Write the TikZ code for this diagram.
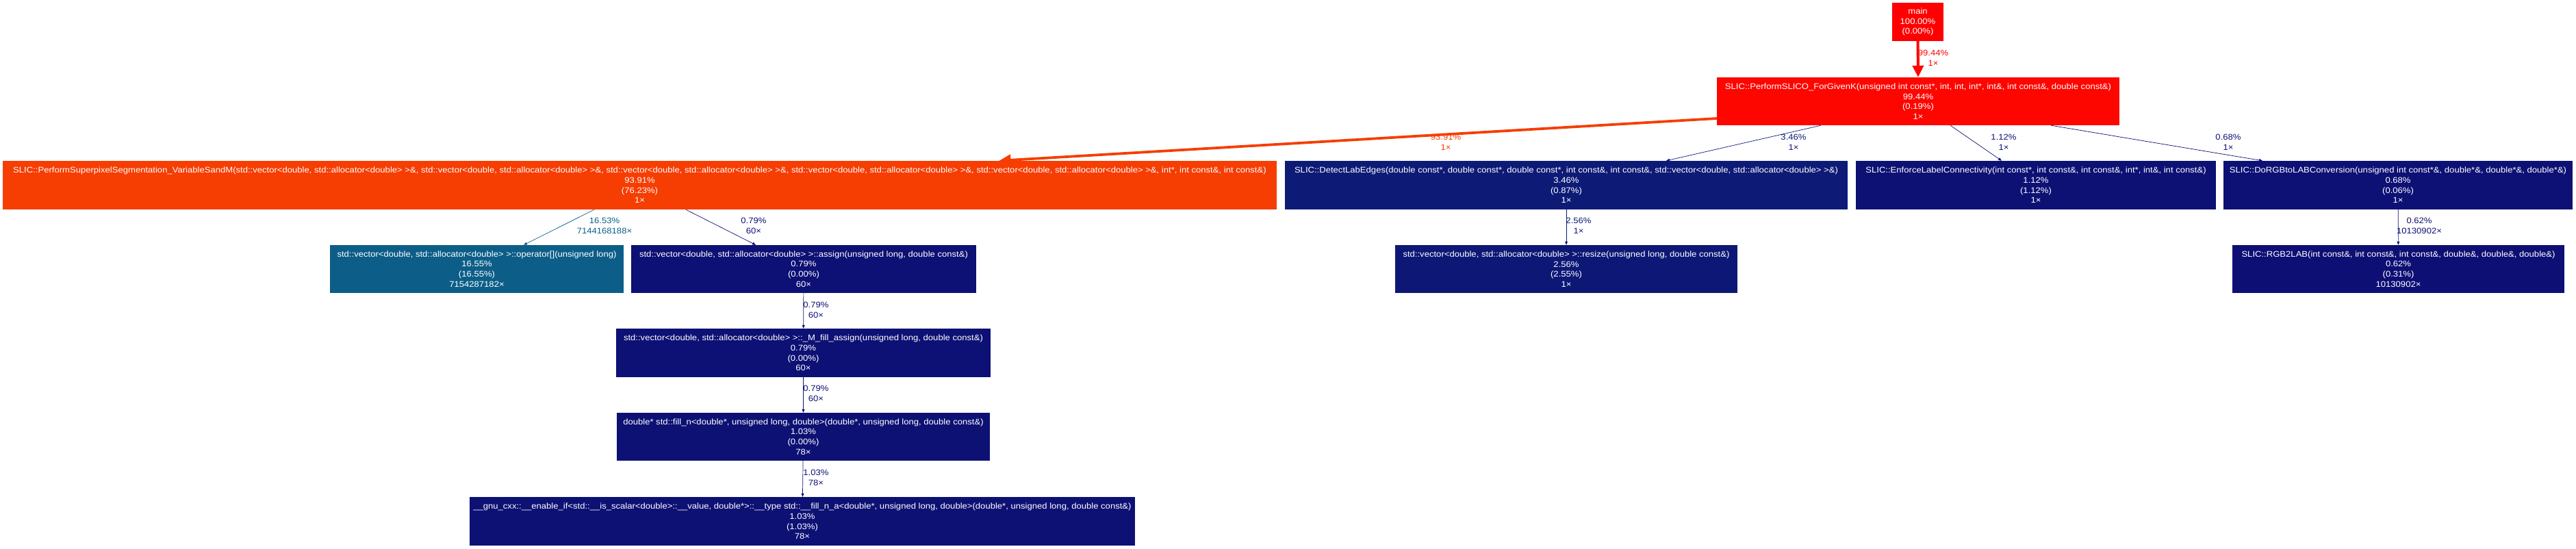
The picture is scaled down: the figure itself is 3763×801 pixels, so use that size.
\documentclass[tikz,border=0pt]{standalone}
\usepackage{fontspec}
\setmainfont[FakeStretch=1.09]{Liberation Sans}
\usetikzlibrary{arrows.meta}
\definecolor{w100}{RGB}{255,0,0}
\definecolor{w994}{RGB}{254,6,0}
\definecolor{w939}{RGB}{246,61,2}
\definecolor{w165}{RGB}{12,94,136}
\definecolor{w035}{RGB}{13,27,119}
\definecolor{w026}{RGB}{13,24,118}
\definecolor{w011}{RGB}{13,17,116}
\definecolor{w007}{RGB}{13,16,116}
\definecolor{w006}{RGB}{13,15,116}

\begin{document}
\begin{tikzpicture}[x=1pt,y=-1pt,font=\fontsize{12}{14.7}\selectfont,
  fn/.style={fill=#1,text=white,inner sep=0pt,align=center,minimum height=70pt},
  call/.style={draw=#1,line width=.7pt,-{Triangle[length=5pt,width=4pt]}},
  hotcall/.style={draw=#1,line width=4pt,-{Triangle[length=17pt,width=16pt]}},
  pct/.style={text=#1,align=center,inner sep=0pt}]
\useasboundingbox (0,0) rectangle (3763,801);
\node[fn=w100,minimum width=75pt,minimum height=56pt] (main) at (2801.5,32) {main\\100.00\%\\(0.00\%)};
\node[fn=w994,minimum width=588pt] (slico) at (2802,148) {SLIC::PerformSLICO\_ForGivenK(unsigned int const*, int, int, int*, int\&, int const\&, double const\&)\\99.44\%\\(0.19\%)\\1×};
\node[fn=w939,minimum width=1861pt,minimum height=71pt] (superpix) at (934.5,270.5) {SLIC::PerformSuperpixelSegmentation\_VariableSandM(std::vector<double, std::allocator<double> >\&, std::vector<double, std::allocator<double> >\&, std::vector<double, std::allocator<double> >\&, std::vector<double, std::allocator<double> >\&, std::vector<double, std::allocator<double> >\&, int*, int const\&, int const\&)\\93.91\%\\(76.23\%)\\1×};
\node[fn=w035,minimum width=822pt,minimum height=71pt] (detect) at (2288,270.5) {SLIC::DetectLabEdges(double const*, double const*, double const*, int const\&, int const\&, std::vector<double, std::allocator<double> >\&)\\3.46\%\\(0.87\%)\\1×};
\node[fn=w011,minimum width=526pt,minimum height=71pt] (enforce) at (2974,270.5) {SLIC::EnforceLabelConnectivity(int const*, int const\&, int const\&, int*, int\&, int const\&)\\1.12\%\\(1.12\%)\\1×};
\node[fn=w007,minimum width=510pt,minimum height=71pt] (dorgb) at (3503,270.5) {SLIC::DoRGBtoLABConversion(unsigned int const*\&, double*\&, double*\&, double*\&)\\0.68\%\\(0.06\%)\\1×};
\node[fn=w165,minimum width=429pt] (opidx) at (696.5,393) {std::vector<double, std::allocator<double> >::operator[](unsigned long)\\16.55\%\\(16.55\%)\\7154287182×};
\node[fn=w007,minimum width=504pt] (assign) at (1174,393) {std::vector<double, std::allocator<double> >::assign(unsigned long, double const\&)\\0.79\%\\(0.00\%)\\60×};
\node[fn=w007,minimum width=547pt,minimum height=71pt] (fillassign) at (1173.5,515.5) {std::vector<double, std::allocator<double> >::\_M\_fill\_assign(unsigned long, double const\&)\\0.79\%\\(0.00\%)\\60×};
\node[fn=w011,minimum width=545pt] (filln) at (1173.5,638) {double* std::fill\_n<double*, unsigned long, double>(double*, unsigned long, double const\&)\\1.03\%\\(0.00\%)\\78×};
\node[fn=w011,minimum width=972pt,minimum height=71pt] (fillna) at (1172,761.5) {\_\_gnu\_cxx::\_\_enable\_if<std::\_\_is\_scalar<double>::\_\_value, double*>::\_\_type std::\_\_fill\_n\_a<double*, unsigned long, double>(double*, unsigned long, double const\&)\\1.03\%\\(1.03\%)\\78×};
\node[fn=w026,minimum width=500pt] (resize) at (2288,393) {std::vector<double, std::allocator<double> >::resize(unsigned long, double const\&)\\2.56\%\\(2.55\%)\\1×};
\node[fn=w006,minimum width=485pt] (rgblab) at (3503.5,393) {SLIC::RGB2LAB(int const\&, int const\&, int const\&, double\&, double\&, double\&)\\0.62\%\\(0.31\%)\\10130902×};
\draw[hotcall=w994] (main.south) -- (slico.north);
\draw[hotcall=w939,line width=3.76pt] ([yshift=-25pt]slico.west) -- ([xshift=525pt]superpix.north);
\draw[call=w035] ([xshift=-142pt]slico.south) -- ([xshift=146pt]detect.north);
\draw[call=w011] ([xshift=47pt]slico.south) -- ([xshift=-50pt]enforce.north);
\draw[call=w007] ([xshift=194pt]slico.south) -- ([xshift=-198pt]dorgb.north);
\draw[call=w165] ([xshift=-66.5pt]superpix.south) -- ([xshift=68.5pt]opidx.north);
\draw[call=w007] ([xshift=67.5pt]superpix.south) -- ([xshift=-70pt]assign.north);
\draw[call=w007] (assign) -- (fillassign);
\draw[call=w007] (fillassign) -- (filln);
\draw[call=w011] (filln) -- (fillna);
\draw[call=w026] (detect) -- (resize);
\draw[call=w006] (dorgb) -- (rgblab);
\node[pct=w994] (l1) at (2824,85) {99.44\%\\1×};
\node[pct=w939] (l2) at (2112,208) {93.91\%\\1×};
\node[pct=w035] (l3) at (2620,208) {3.46\%\\1×};
\node[pct=w011] (l4) at (2927,208) {1.12\%\\1×};
\node[pct=w007] (l5) at (3255,208) {0.68\%\\1×};
\node[pct=w165] (l6) at (883,330) {16.53\%\\7144168188×};
\node[pct=w007] (l7) at (1101,330) {0.79\%\\60×};
\node[pct=w007] (l8) at (1192,453) {0.79\%\\60×};
\node[pct=w007] (l9) at (1192,575) {0.79\%\\60×};
\node[pct=w011] (l10) at (1192,698) {1.03\%\\78×};
\node[pct=w026] (l11) at (2306,330) {2.56\%\\1×};
\node[pct=w006] (l12) at (3534,330) {0.62\%\\10130902×};
\end{tikzpicture}
\end{document}
